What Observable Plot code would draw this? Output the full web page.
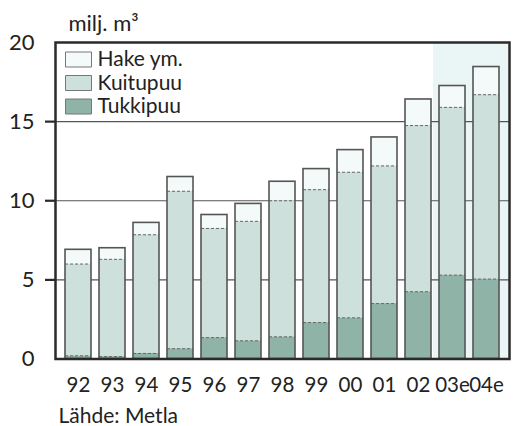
<!DOCTYPE html>
<html>
<head>
<meta charset="utf-8">
<script src="https://cdn.jsdelivr.net/npm/d3@7"></script>
<script src="https://cdn.jsdelivr.net/npm/@observablehq/plot@0.6"></script>
<style>
  body { margin: 0; background: white; }
  #chart svg { font-family: Lato, "Open Sans", sans-serif; }
</style>
</head>
<body>
<div id="chart"></div>
<script>
const years = ["92","93","94","95","96","97","98","99","00","01","02","03e","04e"];
const tukkipuu = [0.2, 0.15, 0.35, 0.65, 1.35, 1.15, 1.4, 2.3, 2.6, 3.5, 4.25, 5.3, 5.05];
const kuitupuu = [5.8, 6.15, 7.5, 9.95, 6.9, 7.55, 8.6, 8.4, 9.2, 8.7, 10.5, 10.6, 11.65];
const hake = [0.9, 0.7, 0.75, 0.9, 0.85, 1.1, 1.2, 1.3, 1.4, 1.8, 1.65, 1.35, 1.75];
const seriesNames = ["Hake ym.", "Kuitupuu", "Tukkipuu"];
const seriesColors = ["#f4fafa", "#cde0db", "#8fb4a7"];
const estimateYears = ["03e", "04e"];
const yTicks = [0, 5, 10, 15, 20];
const gridValues = [5, 10, 15];
const unitLabel = "milj. m³";
const sourceLabel = "Lähde: Metla";

const rows = [];
years.forEach((y, i) => {
  rows.push({year: y, series: "Tukkipuu", value: tukkipuu[i]});
  rows.push({year: y, series: "Kuitupuu", value: kuitupuu[i]});
  rows.push({year: y, series: "Hake ym.", value: hake[i]});
});
const totals = years.map((y, i) => ({
  year: y,
  t: tukkipuu[i],
  k: tukkipuu[i] + kuitupuu[i],
  total: tukkipuu[i] + kuitupuu[i] + hake[i]
}));

const legendMarks = seriesNames.flatMap((name, i) => [
  Plot.dot([name], {
    frameAnchor: "top-left", dx: 23, dy: 17 + i * 23.5,
    symbol: {draw(ctx) { ctx.rect(-13, -7.5, 26, 15); }},
    fill: seriesColors[i], stroke: "#777", strokeWidth: 1
  }),
  Plot.text([name], {
    frameAnchor: "top-left", lineAnchor: "middle", dx: 42, dy: 17 + i * 23.5,
    text: d => d, textAnchor: "start", fontSize: 21, fill: "#222"
  })
]);

const chart = Plot.plot({
  width: 514,
  height: 426,
  marginTop: 42,
  marginLeft: 55,
  marginRight: 5,
  marginBottom: 67.5,
  x: {domain: years, paddingInner: 0.25, paddingOuter: 0.14, axis: null},
  y: {domain: [0, 20], axis: null},
  color: {domain: seriesNames, range: seriesColors},
  marks: [
    Plot.barY(estimateYears, {x: d => d, y1: 0, y2: 20, fill: "#eaf5f5", insetLeft: -6, insetRight: -9, clip: true}),
    Plot.ruleY(gridValues, {stroke: "#555", strokeWidth: 1.2}),
    Plot.barY(rows, Plot.stackY({x: "year", y: "value", fill: "series", order: ["Tukkipuu", "Kuitupuu", "Hake ym."]})),
    Plot.tickY(totals, {x: "year", y: "t", stroke: "#666", strokeWidth: 1, strokeDasharray: "3,2"}),
    Plot.tickY(totals, {x: "year", y: "k", stroke: "#666", strokeWidth: 1, strokeDasharray: "3,2"}),
    Plot.barY(totals, {x: "year", y: "total", fill: "none", stroke: "#555", strokeWidth: 1.6}),
    Plot.frame({stroke: "#2a2a2a", strokeWidth: 2.5}),
    Plot.axisY({ticks: yTicks, tickSize: 0, tickPadding: 21, fontSize: 22, color: "#222", label: null}),
    Plot.axisY({ticks: gridValues, tickSize: 10, strokeWidth: 2.2, stroke: "#2a2a2a", text: null, label: null}),
    Plot.axisX({tickSize: 0, tickPadding: 18, fontSize: 20.5, color: "#222", label: null}),
    ...legendMarks,
    Plot.text([unitLabel], {frameAnchor: "top-left", lineAnchor: "middle", dx: 13, dy: -19, text: d => d, textAnchor: "start", fontSize: 22, fill: "#222"}),
    Plot.text([sourceLabel], {frameAnchor: "bottom-left", lineAnchor: "middle", dx: 3, dy: 57, text: d => d, textAnchor: "start", fontSize: 21, fill: "#222"})
  ]
});
document.getElementById("chart").appendChild(chart);
</script>
</body>
</html>
